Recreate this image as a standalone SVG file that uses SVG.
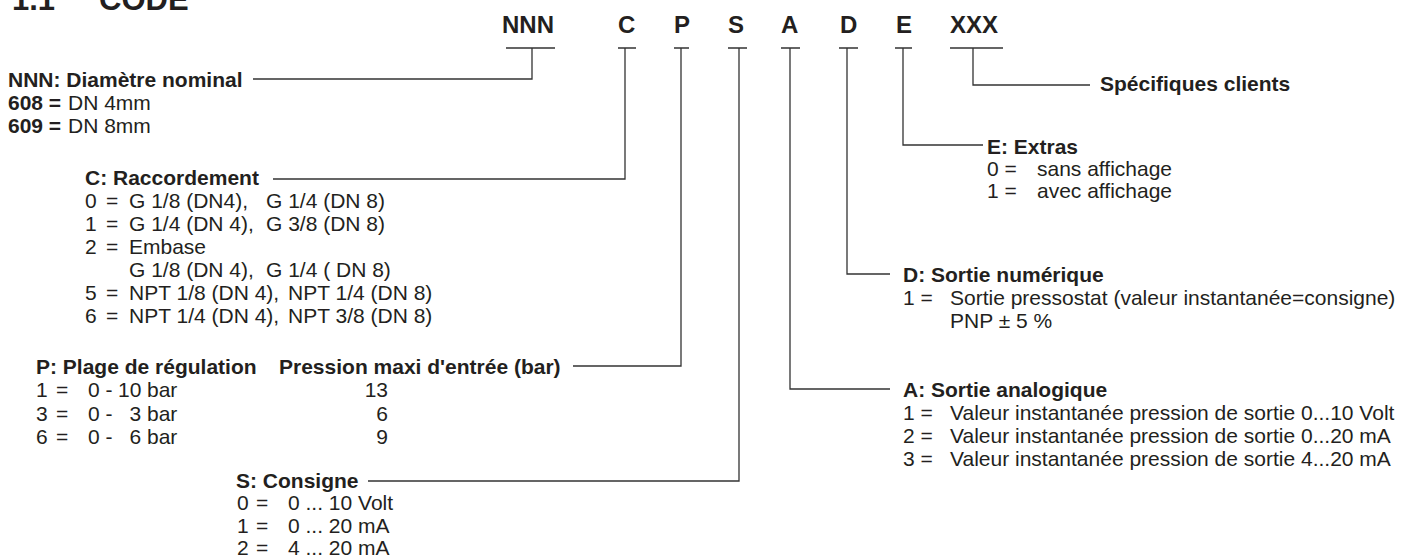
<svg xmlns="http://www.w3.org/2000/svg" width="1403" height="558" viewBox="0 0 1403 558">
<style>
text{font-family:"Liberation Sans",Arial,Helvetica,sans-serif;font-size:21px;fill:#231f20}
.b{font-weight:bold}
.code{font-weight:bold;font-size:24px}
.title{font-weight:bold;font-size:31px}
.ln{fill:none;stroke:#333;stroke-width:1.3}
</style>
<rect width="1403" height="558" fill="#fff"/>
<g id="title"><text class="title" x="12" y="10">1.1</text><text class="title" x="99" y="10">CODE</text></g>
<g id="code">
<text class="code" x="502" y="33">NNN</text>
<text class="code" x="618" y="33">C</text>
<text class="code" x="674" y="33">P</text>
<text class="code" x="728" y="33">S</text>
<text class="code" x="781" y="33">A</text>
<text class="code" x="840" y="33">D</text>
<text class="code" x="896" y="33">E</text>
<text class="code" x="950" y="33">XXX</text>
</g>
<g id="connectors" class="ln">
<path d="M506 48H555M532 48V79H253"/>
<path d="M618 48H636M625 48V179H273"/>
<path d="M674 48H689M681 48V366H573"/>
<path d="M728 48H747M739 48V481H368"/>
<path d="M781 48H800M790 48V389H890"/>
<path d="M839 48H858M847 48V274H890"/>
<path d="M895 48H912M903 48V145H983"/>
<path d="M950 48H1003M973 48V85H1090"/>
</g>
<g id="nnn">
<text class="b" x="8" y="87">NNN: Diamètre nominal</text>
<text x="8" y="110"><tspan class="b">608 =</tspan><tspan x="68">DN 4mm</tspan></text>
<text x="8" y="133"><tspan class="b">609 =</tspan><tspan x="68">DN 8mm</tspan></text>
</g>
<g id="c">
<text class="b" x="85" y="185">C: Raccordement</text>
<text y="208"><tspan x="85">0</tspan><tspan x="106">=</tspan><tspan x="129">G 1/8 (DN4),</tspan><tspan x="266">G 1/4 (DN 8)</tspan></text>
<text y="231"><tspan x="85">1</tspan><tspan x="106">=</tspan><tspan x="129">G 1/4 (DN 4),</tspan><tspan x="266">G 3/8 (DN 8)</tspan></text>
<text y="254"><tspan x="85">2</tspan><tspan x="106">=</tspan><tspan x="129">Embase</tspan></text>
<text y="277"><tspan x="129">G 1/8 (DN 4),</tspan><tspan x="266">G 1/4 ( DN 8)</tspan></text>
<text y="300"><tspan x="85">5</tspan><tspan x="106">=</tspan><tspan x="129">NPT 1/8 (DN 4),</tspan><tspan x="288">NPT 1/4 (DN 8)</tspan></text>
<text y="323"><tspan x="85">6</tspan><tspan x="106">=</tspan><tspan x="129">NPT 1/4 (DN 4),</tspan><tspan x="288">NPT 3/8 (DN 8)</tspan></text>
</g>
<g id="p">
<text class="b" x="36" y="374">P: Plage de régulation</text>
<text y="397"><tspan x="36">1</tspan><tspan x="56">=</tspan><tspan x="88">0 -</tspan><tspan x="118">10</tspan><tspan x="147">bar</tspan></text>
<text y="420.5"><tspan x="36">3</tspan><tspan x="56">=</tspan><tspan x="88">0 -</tspan><tspan x="129.5">3</tspan><tspan x="147">bar</tspan></text>
<text y="443.5"><tspan x="36">6</tspan><tspan x="56">=</tspan><tspan x="88">0 -</tspan><tspan x="129.5">6</tspan><tspan x="147">bar</tspan></text>
<text class="b" x="279" y="374">Pression maxi d'entrée (bar)</text>
<text x="388" y="397" text-anchor="end">13</text>
<text x="388" y="420.5" text-anchor="end">6</text>
<text x="388" y="443.5" text-anchor="end">9</text>
</g>
<g id="s">
<text class="b" x="236" y="488">S: Consigne</text>
<text y="510"><tspan x="237">0</tspan><tspan x="256">=</tspan><tspan x="288">0 ... 10 Volt</tspan></text>
<text y="533"><tspan x="237">1</tspan><tspan x="256">=</tspan><tspan x="288">0 ... 20 mA</tspan></text>
<text y="555"><tspan x="237">2</tspan><tspan x="256">=</tspan><tspan x="288">4 ... 20 mA</tspan></text>
</g>
<g id="xxx">
<text class="b" x="1100" y="91">Spécifiques clients</text>
</g>
<g id="e">
<text class="b" x="987" y="154">E: Extras</text>
<text y="176"><tspan x="987">0 =</tspan><tspan x="1037">sans affichage</tspan></text>
<text y="198"><tspan x="987">1 =</tspan><tspan x="1037">avec affichage</tspan></text>
</g>
<g id="d">
<text class="b" x="903" y="282">D: Sortie numérique</text>
<text y="305"><tspan x="903">1 =</tspan><tspan x="950">Sortie pressostat (valeur instantanée=consigne)</tspan></text>
<text x="950" y="327.5">PNP ± 5 %</text>
</g>
<g id="a">
<text class="b" x="903" y="397">A: Sortie analogique</text>
<text y="420"><tspan x="903">1 =</tspan><tspan x="950">Valeur instantanée pression de sortie 0...10 Volt</tspan></text>
<text y="443"><tspan x="903">2 =</tspan><tspan x="950">Valeur instantanée pression de sortie 0...20 mA</tspan></text>
<text y="465.5"><tspan x="903">3 =</tspan><tspan x="950">Valeur instantanée pression de sortie 4...20 mA</tspan></text>
</g>
</svg>
